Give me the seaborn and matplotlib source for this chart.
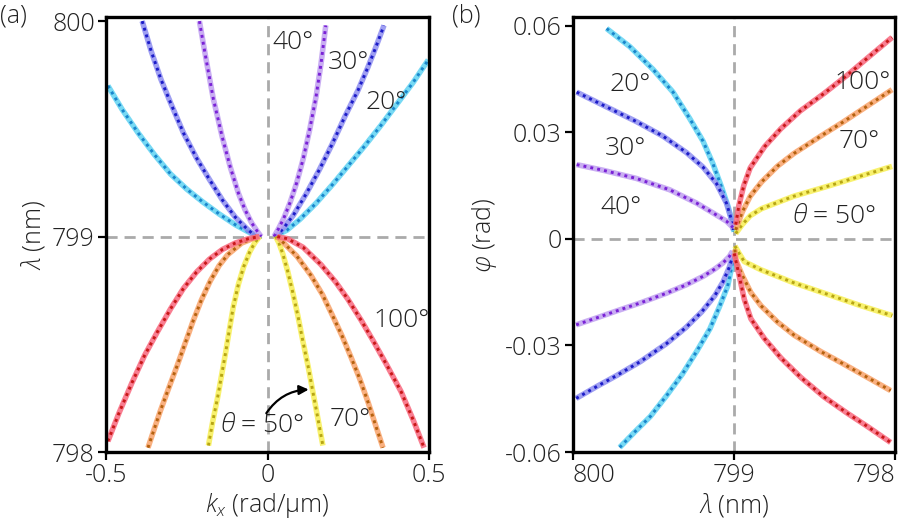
import matplotlib.pyplot as plt
import seaborn as sns

# panel (a): lambda (nm) against k_x (rad/um), one list of (kx, lambda) per branch
A20_L = [(-0.494, 799.70), (-0.45, 799.59), (-0.40, 799.48), (-0.35, 799.38), (-0.30, 799.29), (-0.25, 799.22),
         (-0.20, 799.16), (-0.15, 799.105), (-0.10, 799.055), (-0.06, 799.022), (-0.03, 799.0)]
A20_R = [(0.02, 799.0), (0.06, 799.03), (0.10, 799.08), (0.15, 799.155), (0.20, 799.24), (0.25, 799.33),
         (0.30, 799.42), (0.35, 799.515), (0.40, 799.615), (0.45, 799.715), (0.497, 799.82)]
A30_L = [(-0.388, 800.0), (-0.36, 799.86), (-0.33, 799.73), (-0.30, 799.62), (-0.26, 799.48), (-0.22, 799.365),
         (-0.18, 799.265), (-0.14, 799.17), (-0.10, 799.09), (-0.06, 799.03), (-0.035, 799.0)]
A30_R = [(0.025, 799.0), (0.05, 799.04), (0.08, 799.10), (0.12, 799.20), (0.16, 799.31), (0.20, 799.43),
         (0.24, 799.56), (0.28, 799.68), (0.31, 799.785), (0.335, 799.88), (0.36, 799.98)]
A40_L = [(-0.211, 800.0), (-0.19, 799.82), (-0.168, 799.64), (-0.14, 799.46), (-0.115, 799.32), (-0.09, 799.20),
         (-0.07, 799.125), (-0.05, 799.065), (-0.03, 799.02), (-0.02, 799.0)]
A40_R = [(0.02, 799.0), (0.035, 799.04), (0.05, 799.085), (0.07, 799.16), (0.09, 799.25), (0.11, 799.36),
         (0.13, 799.495), (0.15, 799.65), (0.165, 799.80), (0.18, 799.98)]
A50_L = [(-0.183, 798.03), (-0.17, 798.14), (-0.155, 798.25), (-0.142, 798.36), (-0.13, 798.46), (-0.118, 798.57),
         (-0.106, 798.675), (-0.09, 798.78), (-0.074, 798.86), (-0.055, 798.93), (-0.04, 798.97), (-0.025, 799.0)]
A50_R = [(0.025, 799.0), (0.035, 798.97), (0.047, 798.92), (0.062, 798.84), (0.078, 798.74), (0.094, 798.63),
         (0.109, 798.515), (0.125, 798.40), (0.14, 798.28), (0.155, 798.16), (0.171, 798.03)]
A70_L = [(-0.37, 798.02), (-0.35, 798.11), (-0.332, 798.19), (-0.305, 798.30), (-0.28, 798.40), (-0.255, 798.505),
         (-0.23, 798.61), (-0.205, 798.705), (-0.177, 798.795), (-0.15, 798.865), (-0.124, 798.915),
         (-0.08, 798.97), (-0.03, 799.0)]
A70_R = [(0.03, 799.0), (0.05, 798.97), (0.09, 798.91), (0.134, 798.82), (0.17, 798.73), (0.205, 798.62),
         (0.23, 798.54), (0.258, 798.44), (0.285, 798.34), (0.311, 798.23), (0.335, 798.12), (0.357, 798.02)]
A100_L = [(-0.494, 798.05), (-0.46, 798.18), (-0.42, 798.32), (-0.38, 798.45), (-0.34, 798.56), (-0.30, 798.665),
          (-0.26, 798.76), (-0.22, 798.835), (-0.18, 798.895), (-0.14, 798.94), (-0.10, 798.97), (-0.06, 798.99),
          (-0.025, 799.0)]
A100_R = [(0.03, 799.0), (0.062, 798.99), (0.11, 798.95), (0.165, 798.87), (0.21, 798.79), (0.248, 798.71),
          (0.29, 798.61), (0.329, 798.51), (0.37, 798.40), (0.413, 798.28), (0.45, 798.15), (0.484, 798.02)]

# panel (b): phi (rad) against lambda (nm), one list of (lambda, phi) per branch
B20_UP = [(799.791, 0.0592), (799.647, 0.0541), (799.503, 0.0477), (799.379, 0.0413), (799.276, 0.0339),
          (799.193, 0.0275), (799.131, 0.0211), (799.079, 0.0147), (799.038, 0.0092), (799.011, 0.0046),
          (799.0, 0.002)]
B30_UP = [(799.977, 0.0413), (799.812, 0.0376), (799.606, 0.0330), (799.441, 0.0289), (799.296, 0.0243),
          (799.193, 0.0202), (799.110, 0.0156), (799.048, 0.0101), (799.017, 0.0055), (799.005, 0.0025)]
B40_UP = [(799.977, 0.0209), (799.812, 0.0193), (799.606, 0.0170), (799.399, 0.0138), (799.234, 0.0101),
          (799.131, 0.0073), (799.048, 0.0050), (799.007, 0.0032)]
B50_UP = [(798.99, 0.0015), (798.95, 0.004), (798.90, 0.0065), (798.83, 0.0085), (798.63, 0.012),
          (798.42, 0.0148), (798.22, 0.0176), (798.02, 0.0204)]
B70_UP = [(798.99, 0.0025), (798.95, 0.0075), (798.90, 0.012), (798.83, 0.016), (798.73, 0.0205),
          (798.63, 0.024), (798.46, 0.029), (798.32, 0.033), (798.17, 0.0375), (798.02, 0.042)]
B100_UP = [(798.99, 0.004), (798.97, 0.0095), (798.94, 0.015), (798.90, 0.020), (798.81, 0.026),
           (798.71, 0.031), (798.59, 0.036), (798.44, 0.041), (798.30, 0.046), (798.17, 0.051), (798.02, 0.0567)]
B20_LO = [(799.71, -0.0587), (799.62, -0.0545), (799.52, -0.050), (799.42, -0.0442), (799.32, -0.038),
          (799.23, -0.0315), (799.15, -0.0253), (799.09, -0.019), (799.04, -0.0133), (799.015, -0.008),
          (799.0, -0.004)]
B30_LO = [(799.98, -0.0449), (799.85, -0.0415), (799.73, -0.0385), (799.58, -0.0345), (799.42, -0.0295),
          (799.30, -0.025), (799.20, -0.0205), (799.12, -0.016), (799.07, -0.0122), (799.03, -0.008),
          (799.01, -0.005)]
B40_LO = [(799.98, -0.0242), (799.85, -0.0222), (799.73, -0.0203), (799.58, -0.0180), (799.42, -0.0153),
          (799.30, -0.0130), (799.19, -0.0105), (799.12, -0.0085), (799.07, -0.0068), (799.03, -0.005),
          (799.01, -0.0035)]
B50_LO = [(798.995, -0.002), (798.969, -0.0041), (798.937, -0.0064), (798.834, -0.0087), (798.628, -0.0124),
          (798.421, -0.0156), (798.215, -0.0188), (798.019, -0.0216)]
B70_LO = [(798.995, -0.003), (798.989, -0.0060), (798.947, -0.0105), (798.896, -0.0151), (798.834, -0.0188),
          (798.731, -0.0234), (798.628, -0.0271), (798.463, -0.0317), (798.318, -0.0353), (798.173, -0.0390),
          (798.029, -0.0427)]
B100_LO = [(798.999, -0.0041), (798.968, -0.0105), (798.937, -0.0170), (798.896, -0.0225), (798.813, -0.0280),
           (798.710, -0.0335), (798.586, -0.0390), (798.442, -0.0445), (798.297, -0.0491), (798.173, -0.0528),
           (798.029, -0.0573)]

ANGLES = ["20", "30", "40", "50", "70", "100"]
A_BRANCHES = {"20": [A20_L, A20_R], "30": [A30_L, A30_R], "40": [A40_L, A40_R],
              "50": [A50_L, A50_R], "70": [A70_L, A70_R], "100": [A100_L, A100_R]}
B_BRANCHES = {"20": [B20_UP, B20_LO], "30": [B30_UP, B30_LO], "40": [B40_UP, B40_LO],
              "50": [B50_UP, B50_LO], "70": [B70_UP, B70_LO], "100": [B100_UP, B100_LO]}

BAND = {"20": "#5fd3f3", "30": "#8e8ef0", "40": "#c0a0f0", "50": "#f7ef55", "70": "#f9a36a", "100": "#f8687e"}
DOTS = {"20": "#1a86cc", "30": "#1c1cc8", "40": "#7a22d6", "50": "#b7a514", "70": "#b5620f", "100": "#c81818"}

sns.set_theme(style="ticks")
plt.rcParams["font.family"] = ["Open Sans", "DejaVu Sans"]
plt.rcParams["font.weight"] = "light"
plt.rcParams["axes.labelweight"] = "light"
plt.rcParams["mathtext.fontset"] = "custom"
plt.rcParams["mathtext.rm"] = "Open Sans:light"
plt.rcParams["mathtext.it"] = "Open Sans:italic:light"
plt.rcParams["mathtext.fallback"] = "stixsans"
plt.rcParams["axes.unicode_minus"] = False

TEXT = "#222222"
FS = 19


def draw_branch(ax, pts, key):
    x, y = zip(*pts)
    sns.lineplot(x=list(x), y=list(y), ax=ax, sort=False, estimator=None,
                 color=BAND[key], lw=4, alpha=0.85, solid_capstyle="butt", solid_joinstyle="round")
    sns.lineplot(x=list(x), y=list(y), ax=ax, sort=False, estimator=None,
                 color=DOTS[key], lw=2.1, linestyle=(0, (1, 1.4)))


def style_axes(ax):
    for sp in ax.spines.values():
        sp.set_linewidth(2.4)
        sp.set_color("black")
    ax.tick_params(direction="out", length=6, width=1.6, labelsize=18, pad=2,
                   colors="black", labelcolor=TEXT)


fig = plt.figure(figsize=(8.98, 5.25), dpi=100)
ax_a = fig.add_axes([0.118, 0.139, 0.360, 0.829])
ax_b = fig.add_axes([0.638, 0.139, 0.359, 0.829])

# (a)
ax_a.axhline(799, color="#aaaaaa", lw=2, ls=(0, (4, 2.5)), zorder=0)
ax_a.axvline(0, color="#aaaaaa", lw=2, ls=(0, (4, 2.5)), zorder=0)
for key in ANGLES:
    for branch in A_BRANCHES[key]:
        draw_branch(ax_a, branch, key)
ax_a.set_xlim(-0.5, 0.5)
ax_a.set_ylim(798, 800.02)
ax_a.set_xticks([-0.5, 0, 0.5], ["-0.5", "0", "0.5"])
ax_a.set_yticks([798, 799, 800], ["798", "799", "800"])
ax_a.set_xlabel(r"$k_x$ (rad/μm)", fontsize=18, color=TEXT, labelpad=2)
ax_a.set_ylabel(r"$\lambda$ (nm)", fontsize=18, color=TEXT, labelpad=4)
style_axes(ax_a)

for txt, x, y in [("40°", 0.016, 799.90), ("30°", 0.186, 799.81), ("20°", 0.304, 799.62),
                  ("100°", 0.326, 798.61), ("70°", 0.193, 798.15)]:
    ax_a.text(x, y, txt, fontsize=FS, color=TEXT, ha="left", va="center")
ax_a.text(-0.146, 798.125, r"$\theta$ = 50°", fontsize=FS, color=TEXT, ha="left", va="center")
ax_a.annotate("", xy=(0.127, 798.29), xytext=(-0.004, 798.18),
              arrowprops=dict(arrowstyle="-|>", color="black", lw=1.6, shrinkA=0, shrinkB=0,
                              connectionstyle="arc3,rad=-0.25", mutation_scale=14))

# (b)
ax_b.axhline(0, color="#aaaaaa", lw=2, ls=(0, (4, 2.5)), zorder=0)
ax_b.axvline(799, color="#aaaaaa", lw=2, ls=(0, (4, 2.5)), zorder=0)
for key in ANGLES:
    for branch in B_BRANCHES[key]:
        draw_branch(ax_b, branch, key)
ax_b.set_xlim(800, 798)
ax_b.set_ylim(-0.06, 0.0625)
ax_b.set_xticks([800, 799, 798], ["800", "799", "798"])
ax_b.set_yticks([-0.06, -0.03, 0, 0.03, 0.06], ["-0.06", "-0.03", "0", "0.03", "0.06"])
ax_b.set_xlabel(r"$\lambda$ (nm)", fontsize=18, color=TEXT, labelpad=2)
ax_b.set_ylabel(r"$\varphi$ (rad)", fontsize=18, color=TEXT, labelpad=4)
style_axes(ax_b)
xlabels = ax_b.get_xticklabels()
xlabels[0].set_ha("left")
xlabels[-1].set_ha("right")

for txt, x, y in [("20°", 799.77, 0.0435), ("30°", 799.80, 0.0253), ("40°", 799.83, 0.0088),
                  ("100°", 798.38, 0.044), ("70°", 798.35, 0.0275)]:
    ax_b.text(x, y, txt, fontsize=FS, color=TEXT, ha="left", va="center")
ax_b.text(798.64, 0.0063, r"$\theta$ = 50°", fontsize=FS, color=TEXT, ha="left", va="center")

fig.text(0.0, 0.97, "(a)", fontsize=18, color=TEXT, ha="left", va="center")
fig.text(0.503, 0.97, "(b)", fontsize=18, color=TEXT, ha="left", va="center")

fig.savefig("out.png", dpi=100)
